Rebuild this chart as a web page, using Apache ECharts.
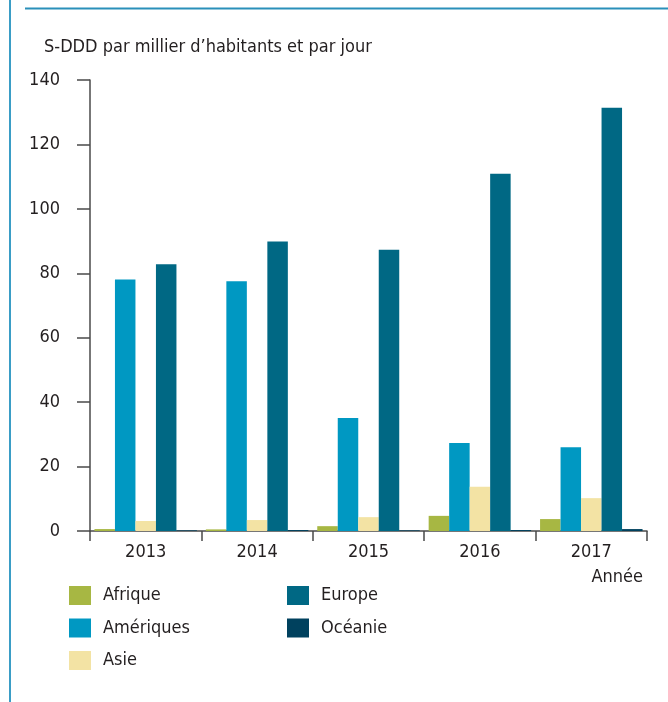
<!DOCTYPE html>
<html>
<head>
<meta charset="utf-8">
<script src="https://cdn.jsdelivr.net/npm/echarts@6/dist/echarts.min.js"></script>
<style>
html,body{margin:0;padding:0;background:#fff;}
#c{width:668px;height:702px;}
</style>
</head>
<body>
<div id="c"></div>
<script>
const categories = ['2013', '2014', '2015', '2016', '2017'];
const afrique = [0.6, 0.5, 1.5, 4.7, 3.7];
const ameriques = [78.1, 77.5, 35.1, 27.3, 26.0];
const asie = [3.1, 3.4, 4.3, 13.7, 10.2];
const europe = [82.8, 89.9, 87.3, 110.9, 131.4];
const oceanie = [0.2, 0.3, 0.2, 0.3, 0.6];
const yTicks = [0, 20, 40, 60, 80, 100, 120, 140];

const FONT = '"Liberation Sans Narrow", "DejaVu Sans Condensed", "Roboto", sans-serif';
const TXT = '#231f20';
const colors = {
  Afrique: '#a7b743',
  'Amériques': '#0098c2',
  Asie: '#f3e3a4',
  Europe: '#006884',
  'Océanie': '#00415e'
};

const chart = echarts.init(document.getElementById('c'), null, {renderer: 'canvas'});
function bar(name, data) {
  return {
    name: name, type: 'bar', data: data,
    itemStyle: {color: colors[name]},
    barGap: '0%', barCategoryGap: '8%',
    silent: true
  };
}
const legendCommon = {
  orient: 'vertical', itemWidth: 22, itemHeight: 19, itemGap: 13.5,
  icon: 'rect',
  textStyle: {fontFamily: FONT, fontSize: 18, color: TXT, padding: [0, 0, 0, 7]},
  padding: 0, selectedMode: false
};
chart.setOption({
  animation: false,
  textStyle: {fontFamily: FONT},
  grid: {left: 90, right: 21, top: 80, bottom: 171, containLabel: false},
  title: {
    text: 'S-DDD par millier d\u2019habitants et par jour',
    left: 44, top: 38, padding: 0,
    textStyle: {fontFamily: FONT, fontSize: 18, fontWeight: 'normal', color: TXT}
  },
  legend: [
    Object.assign({}, legendCommon, {left: 69, top: 586, data: ['Afrique', 'Amériques', 'Asie']}),
    Object.assign({}, legendCommon, {left: 287, top: 586, data: ['Europe', 'Océanie']})
  ],
  xAxis: {
    type: 'category', data: categories,
    name: 'Année', nameLocation: 'end', nameGap: 0,
    nameTextStyle: {fontFamily: FONT, fontSize: 18, color: TXT, align: 'right', verticalAlign: 'top', padding: [37, 4, 0, 0]},
    axisLine: {lineStyle: {color: '#4a4a4a', width: 1.5}},
    axisTick: {show: true, length: 10, lineStyle: {color: '#4a4a4a', width: 1.5}},
    axisLabel: {fontFamily: FONT, fontSize: 18, color: TXT, margin: 12}
  },
  yAxis: {
    type: 'value', min: 0, max: 140, interval: 20,
    splitLine: {show: false},
    axisLine: {show: true, lineStyle: {color: '#4a4a4a', width: 1.5}},
    axisTick: {show: true, length: 13, lineStyle: {color: '#4a4a4a', width: 1.5}},
    axisLabel: {fontFamily: FONT, fontSize: 18, color: TXT, margin: 30,
      formatter: function (v) { return yTicks.indexOf(v) >= 0 ? String(v) : ''; }}
  },
  series: [
    bar('Afrique', afrique),
    bar('Amériques', ameriques),
    bar('Asie', asie),
    bar('Europe', europe),
    bar('Océanie', oceanie)
  ],
  graphic: [
    {type: 'line', shape: {x1: 10, y1: 0, x2: 10, y2: 702}, style: {stroke: '#3a9dc6', lineWidth: 2}},
    {type: 'line', shape: {x1: 25, y1: 8.5, x2: 668, y2: 8.5}, style: {stroke: '#2a90ba', lineWidth: 2}}
  ]
});
</script>
</body>
</html>
